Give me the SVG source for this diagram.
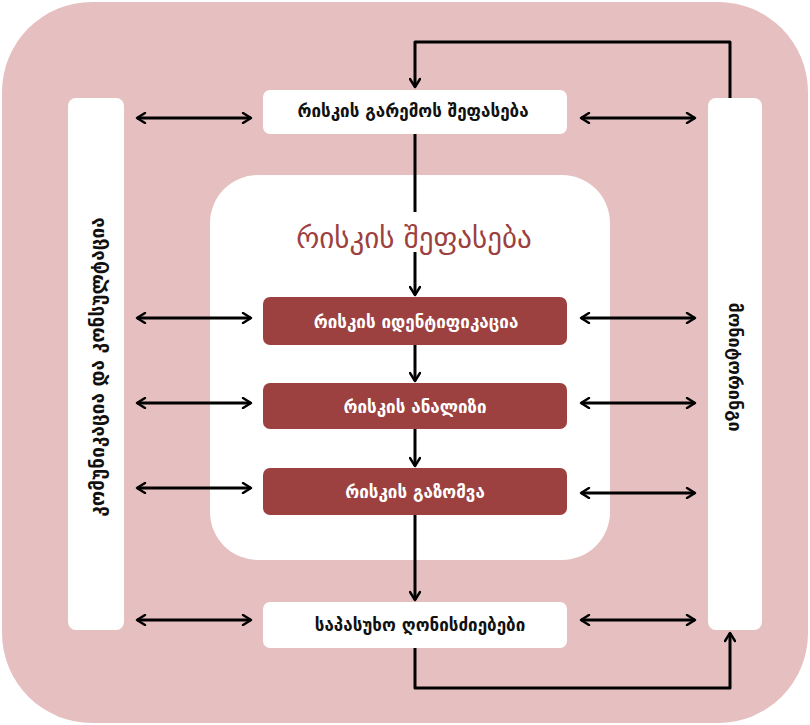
<svg xmlns="http://www.w3.org/2000/svg" width="810" height="725" viewBox="0 0 810 725">
<defs>
<marker id="ah" viewBox="0 0 12 12" refX="10" refY="6" markerWidth="12" markerHeight="12" markerUnits="userSpaceOnUse" orient="auto-start-reverse">
<path d="M2,1 L10,6 L2,11" fill="none" stroke="#000" stroke-width="2.4" stroke-linecap="round" stroke-linejoin="round"/>
</marker>
<style>
.w{fill:#ffffff}
.r{fill:#9c4040}
.t{font-family:"DejaVu Sans","Noto Sans",sans-serif;font-weight:bold;font-size:17px;fill:#111;text-anchor:middle;dominant-baseline:central}
.tw{fill:#ffffff}
.c{fill:none;stroke:#000;stroke-width:3;stroke-linejoin:round}
</style>
</defs>
<rect id="background" x="2" y="2" width="806" height="721" rx="90" fill="#e6bfc0"/>
<g id="assessment-panel">
<rect class="w" x="210" y="175" width="400" height="385" rx="48"/>
<text x="414" y="238" class="t" style="font-size:29px;fill:#9c4040;font-weight:normal">რისკის შეფასება</text>
</g>
<g id="communication">
<rect class="w" x="68" y="98" width="56" height="532" rx="8"/>
<text class="t" transform="translate(97,367) rotate(-90)" style="font-size:19px">კომუნიკაცია და კონსულტაცია</text>
</g>
<g id="monitoring">
<rect class="w" x="708" y="98" width="54" height="532" rx="8"/>
<text class="t" transform="translate(735,367) rotate(90)" style="font-size:18px">მონიტორინგი</text>
</g>
<g id="context">
<rect class="w" x="263" y="90" width="304" height="44" rx="7"/>
<text class="t" x="413" y="111">რისკის გარემოს შეფასება</text>
</g>
<g id="identification">
<rect class="r" x="263" y="297" width="304" height="48" rx="7"/>
<text class="t tw" x="416" y="322">რისკის იდენტიფიკაცია</text>
</g>
<g id="analysis">
<rect class="r" x="263" y="383" width="304" height="46" rx="7"/>
<text class="t tw" x="415" y="407">რისკის ანალიზი</text>
</g>
<g id="evaluation">
<rect class="r" x="263" y="468" width="304" height="47" rx="7"/>
<text class="t tw" x="415" y="492">რისკის გაზომვა</text>
</g>
<g id="treatment">
<rect class="w" x="263" y="602" width="304" height="46" rx="7"/>
<text class="t" x="420" y="625">საპასუხო ღონისძიებები</text>
</g>
<g id="connectors">
<line class="c" x1="415" y1="134" x2="415" y2="212"/>
<line class="c" x1="415" y1="252" x2="415" y2="295" marker-end="url(#ah)"/>
<line class="c" x1="415" y1="345" x2="415" y2="381" marker-end="url(#ah)"/>
<line class="c" x1="415" y1="429" x2="415" y2="466" marker-end="url(#ah)"/>
<line class="c" x1="415" y1="515" x2="415" y2="600" marker-end="url(#ah)"/>
<path class="c" d="M730,98 V42 H415 V87" marker-end="url(#ah)"/>
<path class="c" d="M415,648 V688 H730 V633" marker-end="url(#ah)"/>
<line class="c" x1="137" y1="118" x2="251" y2="118" marker-start="url(#ah)" marker-end="url(#ah)"/>
<line class="c" x1="137" y1="318" x2="251" y2="318" marker-start="url(#ah)" marker-end="url(#ah)"/>
<line class="c" x1="137" y1="403" x2="251" y2="403" marker-start="url(#ah)" marker-end="url(#ah)"/>
<line class="c" x1="137" y1="488" x2="251" y2="488" marker-start="url(#ah)" marker-end="url(#ah)"/>
<line class="c" x1="137" y1="620" x2="251" y2="620" marker-start="url(#ah)" marker-end="url(#ah)"/>
<line class="c" x1="581" y1="118" x2="695" y2="118" marker-start="url(#ah)" marker-end="url(#ah)"/>
<line class="c" x1="581" y1="318" x2="695" y2="318" marker-start="url(#ah)" marker-end="url(#ah)"/>
<line class="c" x1="581" y1="403" x2="695" y2="403" marker-start="url(#ah)" marker-end="url(#ah)"/>
<line class="c" x1="581" y1="493" x2="695" y2="493" marker-start="url(#ah)" marker-end="url(#ah)"/>
<line class="c" x1="581" y1="620" x2="695" y2="620" marker-start="url(#ah)" marker-end="url(#ah)"/>
</g>
</svg>
